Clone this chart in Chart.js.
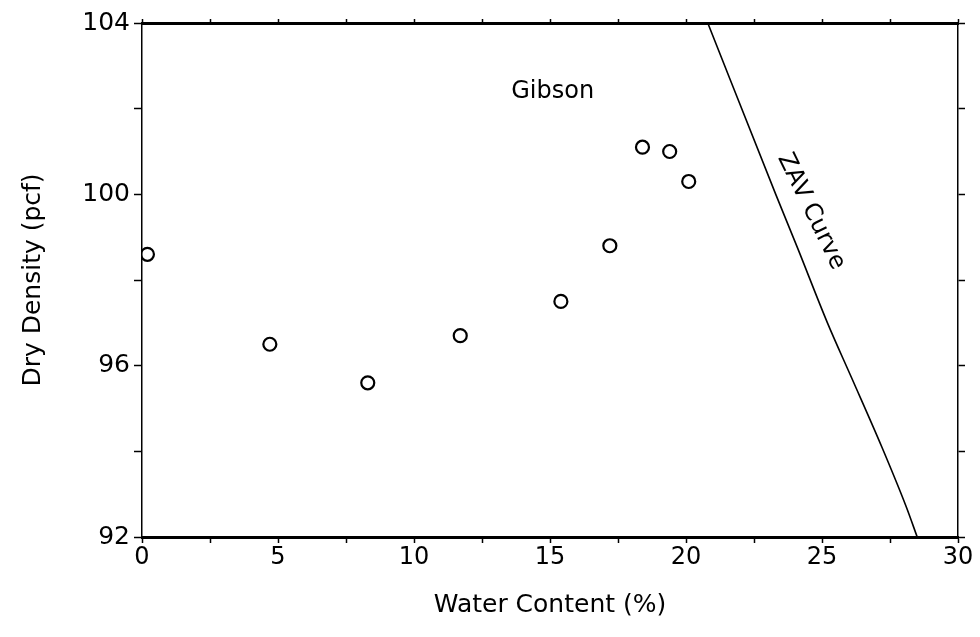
<!DOCTYPE html>
<html>
<head>
<meta charset="utf-8">
<script src="https://cdn.jsdelivr.net/npm/chart.js@4"></script>
<style>
  html, body { margin: 0; padding: 0; background: #fff; }
  #wrap { width: 980px; height: 637px; }
</style>
</head>
<body>
<div id="wrap"><canvas id="myChart" width="980" height="637"></canvas></div>
<script>
// compaction test points, Gibson soil
const waterContent = [0.2, 4.7, 8.3, 11.7, 15.4, 17.2, 18.4, 19.4, 20.1];
const dryDensity = [98.6, 96.5, 95.6, 96.7, 97.5, 98.8, 101.1, 101.0, 100.3];

// zero air voids curve
const zavWater = [20.8, 23.3, 24.1, 25.2, 26.1, 27.2, 28.1, 28.5];
const zavDensity = [104, 100, 98.75, 97.0, 95.7, 94.1, 92.7, 92];

const xLabels = [0, 5, 10, 15, 20, 25, 30];
const yLabels = [92, 96, 100, 104];

const FONT = 'DejaVu Sans';

const toXY = (xs, ys) => xs.map((x, i) => ({ x: x, y: ys[i] }));

const notes = {
  id: 'notes',
  afterDatasetsDraw(chart) {
    const { ctx, scales: { x, y } } = chart;
    ctx.save();
    ctx.fillStyle = '#000';
    ctx.font = '24px ' + FONT;
    ctx.textAlign = 'center';
    ctx.textBaseline = 'middle';
    ctx.fillText('Gibson', x.getPixelForValue(15.1), y.getPixelForValue(102.4));
    ctx.translate(x.getPixelForValue(24.6), y.getPixelForValue(99.6));
    ctx.rotate(64 * Math.PI / 180);
    ctx.fillText('ZAV Curve', 0, 0);
    ctx.restore();
  }
};

const tickGrid = (w, len) => ({
  drawOnChartArea: false,
  drawTicks: true,
  tickLength: len,
  tickColor: '#000',
  tickWidth: w
});

new Chart(document.getElementById('myChart'), {
  type: 'scatter',
  data: {
    datasets: [
      {
        label: 'Gibson',
        data: toXY(waterContent, dryDensity),
        pointStyle: 'circle',
        pointRadius: 6.5,
        pointBorderWidth: 2.2,
        pointBorderColor: '#000',
        pointBackgroundColor: 'rgba(255,255,255,0)'
      },
      {
        label: 'ZAV Curve',
        type: 'line',
        data: toXY(zavWater, zavDensity),
        borderColor: '#000',
        borderWidth: 1.6,
        pointRadius: 0,
        cubicInterpolationMode: 'monotone',
        fill: false
      }
    ]
  },
  options: {
    responsive: false,
    animation: false,
    layout: { padding: { top: 23, right: 22, left: 0, bottom: 0 } },
    plugins: { legend: { display: false }, tooltip: { enabled: false } },
    scales: {
      x: {
        type: 'linear',
        position: 'bottom',
        min: 0, max: 30,
        ticks: {
          stepSize: 2.5,
          autoSkip: false,
          maxRotation: 0,
          color: '#000',
          font: { family: FONT, size: 24 },
          padding: 0,
          callback: (v) => xLabels.includes(v) ? String(v) : ''
        },
        grid: tickGrid(1.5, 6),
        border: { color: '#000', width: 3 },
        title: {
          display: true,
          text: 'Water Content (%)',
          color: '#000',
          font: { family: FONT, size: 25 },
          padding: { top: 10, bottom: 17 }
        },
        afterFit: (s) => { s.height = 100; }
      },
      y: {
        type: 'linear',
        position: 'left',
        min: 92, max: 104,
        ticks: {
          stepSize: 2,
          autoSkip: false,
          color: '#000',
          font: { family: FONT, size: 25 },
          padding: 4,
          callback: (v) => yLabels.includes(v) ? String(v) : ''
        },
        grid: tickGrid(1.5, 8),
        border: { color: '#000', width: 1.5 },
        title: {
          display: true,
          text: 'Dry Density (pcf)',
          color: '#000',
          font: { family: FONT, size: 25 },
          padding: { top: 18, bottom: 0 }
        },
        afterFit: (s) => { s.width = 142; }
      },
      x2: {
        type: 'linear',
        position: 'top',
        min: 0, max: 30,
        ticks: { stepSize: 2.5, display: false },
        grid: tickGrid(1.5, 4),
        border: { color: '#000', width: 3 },
        afterFit: (s) => { s.height = 0; }
      },
      y2: {
        type: 'linear',
        position: 'right',
        min: 92, max: 104,
        ticks: { stepSize: 2, display: false },
        grid: tickGrid(1.5, 7),
        border: { color: '#000', width: 1.5 },
        afterFit: (s) => { s.width = 0; }
      }
    }
  },
  plugins: [notes]
});
</script>
</body>
</html>
